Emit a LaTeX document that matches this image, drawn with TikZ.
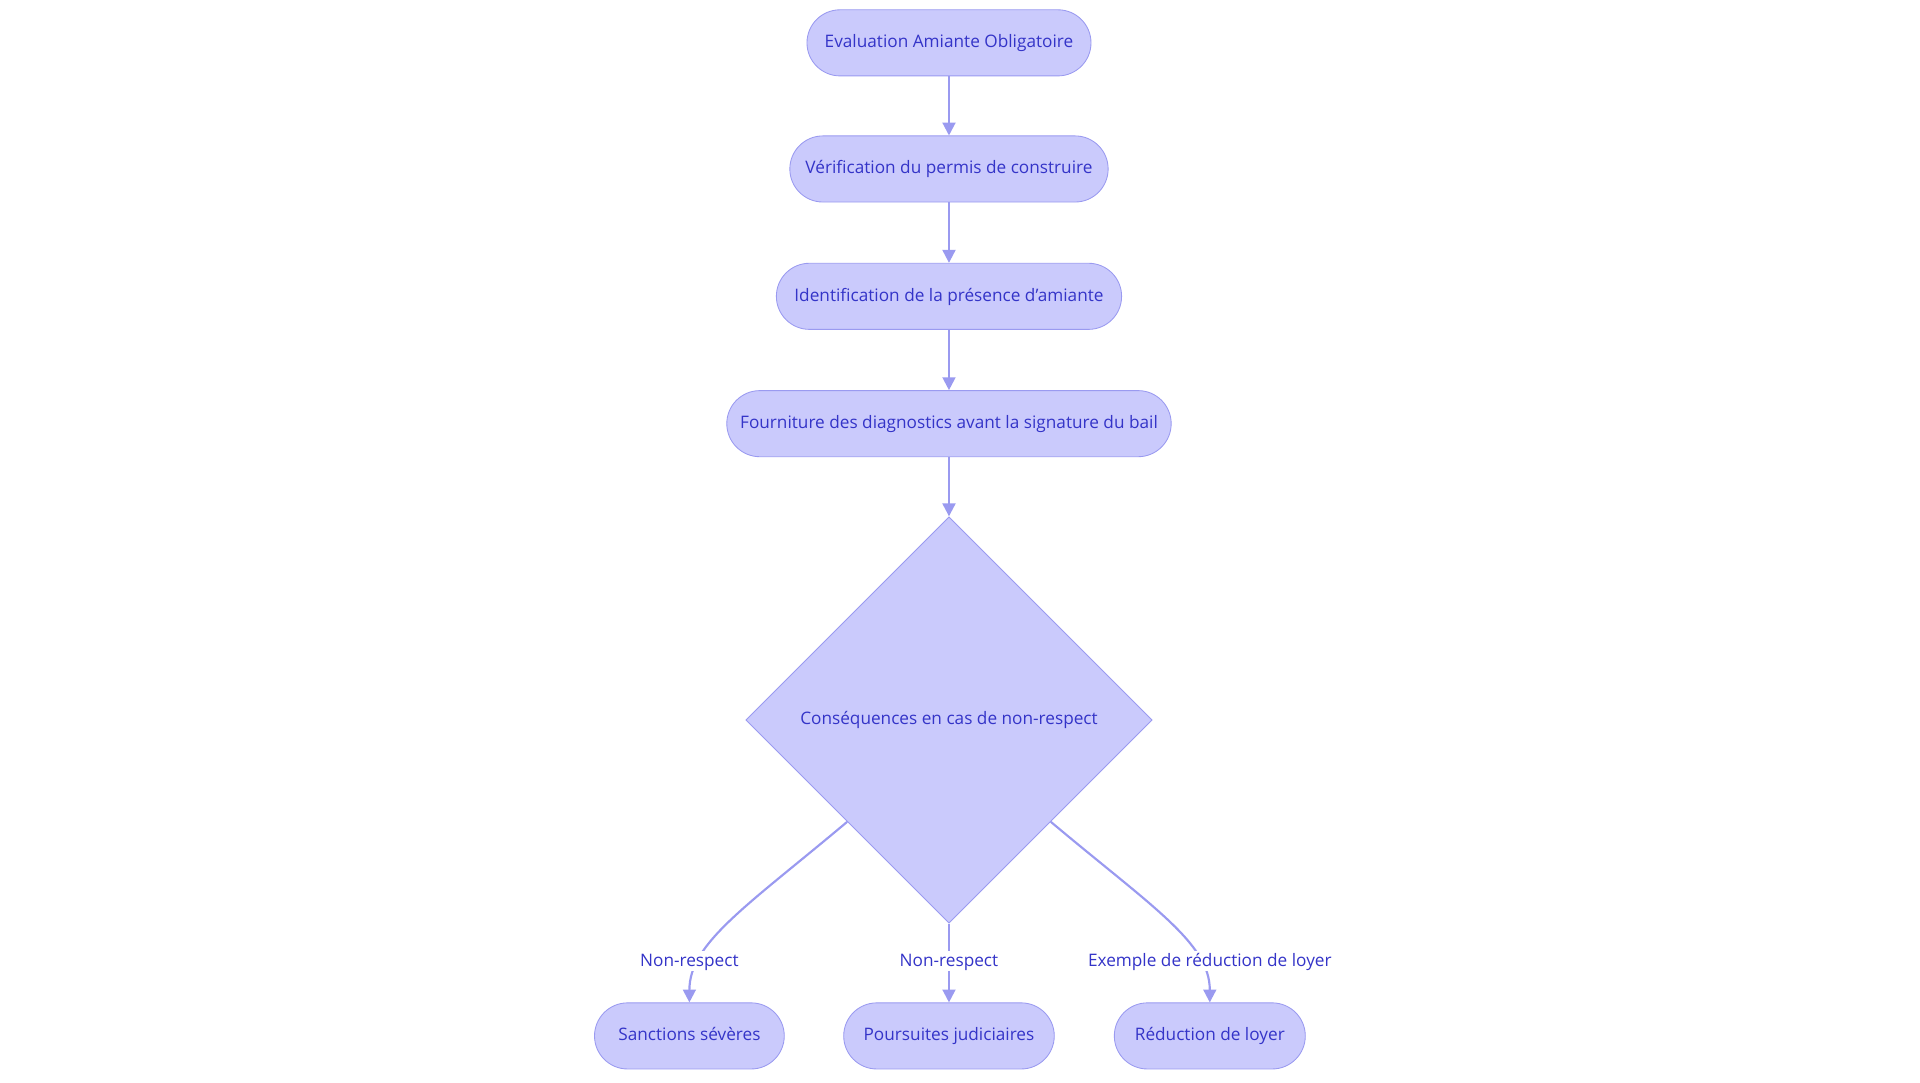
\documentclass[tikz,border=0pt]{standalone}
\usepackage{fontspec}
\setmainfont{Open Sans}
\usetikzlibrary{shapes.geometric,arrows.meta}
\definecolor{nf}{HTML}{CACAFC}
\definecolor{ns}{HTML}{9A9AF0}
\definecolor{tx}{HTML}{3434C8}
\begin{document}
\begin{tikzpicture}[x=0.02cm,y=-0.02cm,
  box/.style={draw=ns,fill=nf,rounded corners=0.54cm,minimum height=1.08cm,text=tx,font=\fontsize{8}{10}\selectfont,inner sep=0,text height=6pt,text depth=1.5pt},
  edge/.style={draw=ns,line width=1pt,-{Triangle[length=6pt,width=6pt]}},
  lbl/.style={fill=white,text=tx,font=\fontsize{8}{10}\selectfont,inner sep=1pt,text height=6pt,text depth=1.5pt}]
\useasboundingbox (0,0) rectangle (1568,884);
\node[box,minimum width=4.64cm] (n1) at (775,35) {Evaluation Amiante Obligatoire};
\node[box,minimum width=5.2cm] (n2) at (775,138) {Vérification du permis de construire};
\node[box,minimum width=5.64cm] (n3) at (775,242) {Identification de la présence d'amiante};
\node[box,minimum width=7.26cm] (n4) at (775,346) {Fourniture des diagnostics avant la signature du bail};
\node[draw=ns,fill=nf,diamond,minimum size=6.64cm,inner sep=0,text=tx,font=\fontsize{8}{10}\selectfont] (d) at (775,588) {Conséquences en cas de non-respect};
\node[box,minimum width=3.1cm] (s1) at (563,846) {Sanctions sévères};
\node[box,minimum width=3.44cm] (s2) at (775,846) {Poursuites judiciaires};
\node[box,minimum width=3.12cm] (s3) at (988,846) {Réduction de loyer};
\draw[edge] (n1) -- (n2);
\draw[edge] (n2) -- (n3);
\draw[edge] (n3) -- (n4);
\draw[edge] (n4) -- (d);
\draw[edge] (d.south west) .. controls (610,740) and (563,770) .. (s1.north);
\draw[edge] (d.south) -- (s2.north);
\draw[edge] (d.south east) .. controls (940,740) and (988,770) .. (s3.north);
\node[lbl] (l1) at (563,785) {Non-respect};
\node[lbl] (l2) at (775,785) {Non-respect};
\node[lbl] (l3) at (988,785) {Exemple de réduction de loyer};
\end{tikzpicture}
\end{document}
